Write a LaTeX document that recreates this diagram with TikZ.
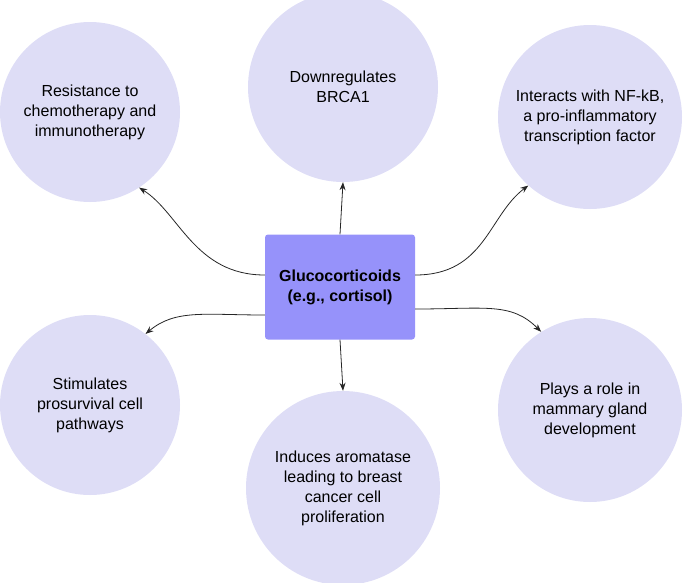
\documentclass[tikz,border=0pt]{standalone}
\usepackage{fontspec}
\setmainfont{Liberation Sans}
\usepackage{tikz}
\usetikzlibrary{arrows.meta,positioning,calc}
\definecolor{lavender}{RGB}{222,221,246}
\definecolor{violet}{RGB}{150,146,250}
\begin{document}
\begin{tikzpicture}[x=1pt,y=-1pt]
\useasboundingbox (0,0) rectangle (685,582);
\tikzset{effect/.style={circle, fill=lavender, minimum size=180pt, align=center, font=\fontsize{16}{20}\selectfont},
  link/.style={-{Stealth[length=8pt,width=6pt]}, line width=0.8pt, draw=black!85}}
% Central hormone
\node[fill=violet, rounded corners=3pt, minimum width=150pt, minimum height=105pt, align=center, font=\fontsize{16}{20}\selectfont\bfseries] (gluco) at (340,287) {Glucocorticoids\\(e.g., cortisol)};

% Effects
\node[effect] (resist) at (90,112) {Resistance to\\chemotherapy and\\immunotherapy};
\node[effect, minimum size=190pt] (brca) at (343,87) {Downregulates\\BRCA1};
\node[effect, minimum size=184pt] (nfkb) at (590,117) {Interacts with NF-kB,\\a pro-inflammatory\\transcription factor};
\node[effect] (prosurv) at (90,405) {Stimulates\\prosurvival cell\\pathways};
\node[effect, minimum size=194pt] (aroma) at (343,488) {Induces aromatase\\leading to breast\\cancer cell\\proliferation};
\node[effect, minimum size=184pt] (mammary) at (590,410) {Plays a role in\\mammary gland\\development};

% Connectors
\draw[link] ($(gluco.west)+(0,-12)$) .. controls +(-70,0) and +(40,25) .. (resist.-57);
\draw[link] (gluco.north) -- (brca.south);
\draw[link] ($(gluco.east)+(0,-12)$) .. controls +(70,0) and +(-40,30) .. (nfkb.-132);
\draw[link] ($(gluco.west)+(0,28)$) .. controls +(-60,0) and +(30,-25) .. (prosurv.52);
\draw[link] ($(gluco.east)+(0,22)$) .. controls +(70,0) and +(-30,-30) .. (mammary.122);
\draw[link] (gluco.south) -- (aroma.north);
\end{tikzpicture}
\end{document}
